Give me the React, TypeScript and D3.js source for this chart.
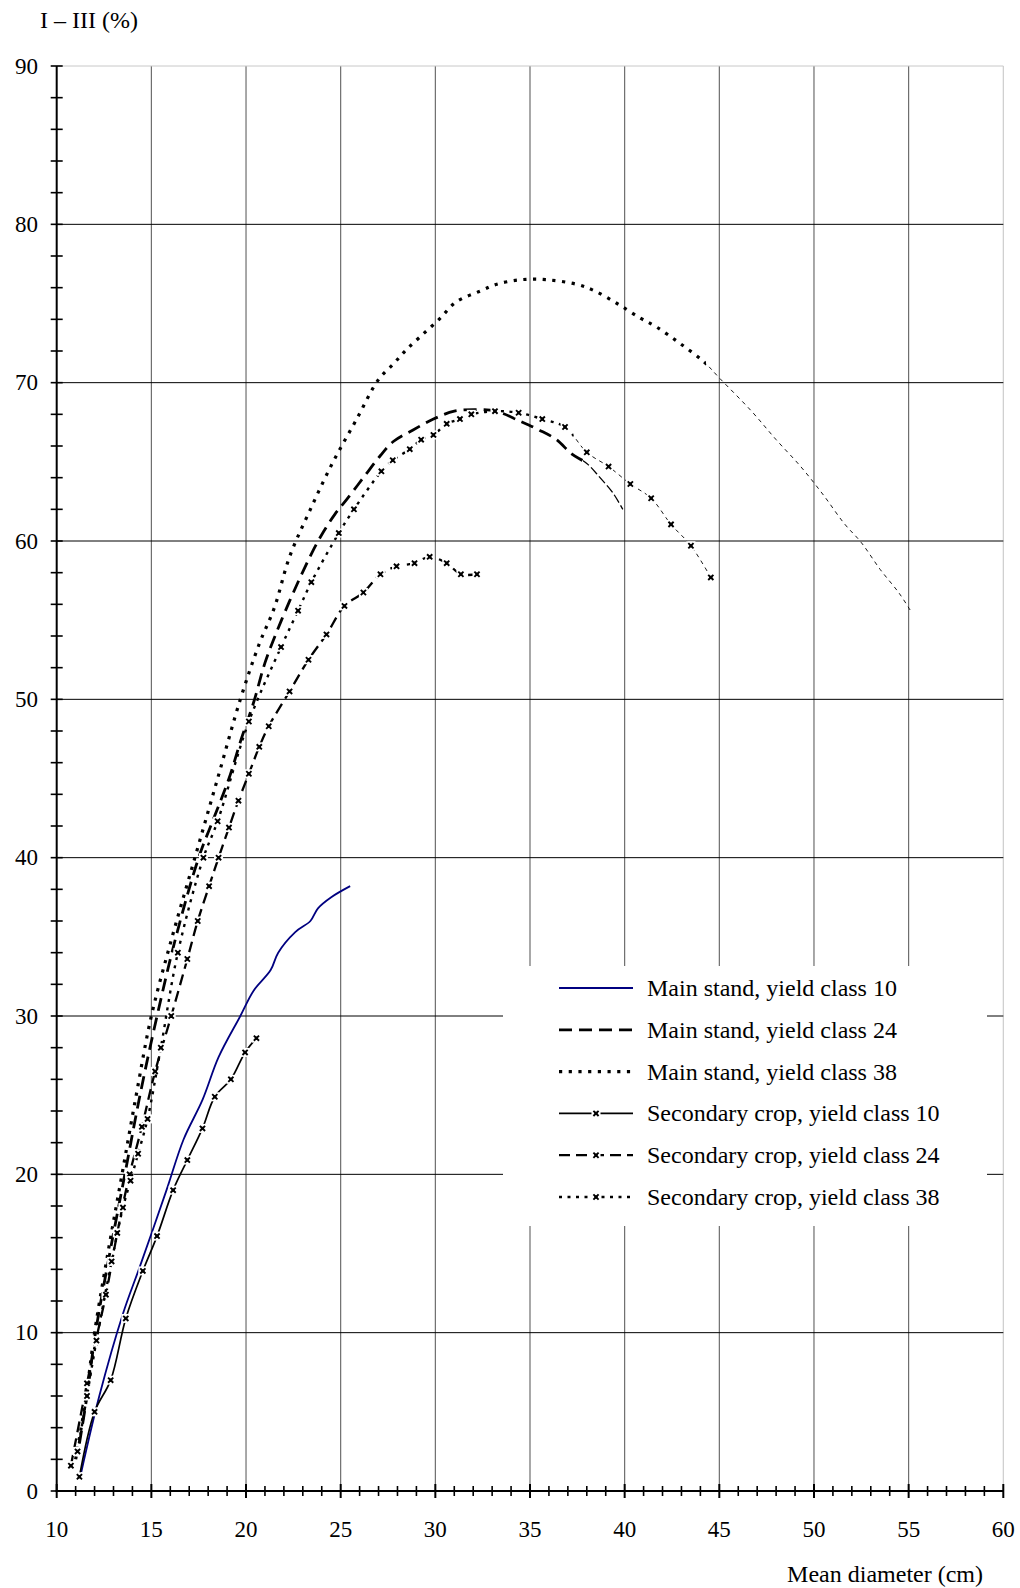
import * as d3 from 'd3'

// x = mean diameter (cm), y = I – III (%)
const xTicks = [10, 15, 20, 25, 30, 35, 40, 45, 50, 55, 60]
const yTicks = [0, 10, 20, 30, 40, 50, 60, 70, 80, 90]

const legendLabels = [
  'Main stand, yield class 10',
  'Main stand, yield class 24',
  'Main stand, yield class 38',
  'Secondary crop, yield class 10',
  'Secondary crop, yield class 24',
  'Secondary crop, yield class 38',
]

const main10X = [11.3, 12.25, 13.5, 14.4, 15.8, 16.7, 17.7, 18.55, 19.7, 20.4, 21.3, 21.7, 22.6, 23.4, 23.8, 24.5, 25.5]
const main10Y = [1.2, 6.0, 11.2, 14.2, 19.0, 22.2, 24.7, 27.4, 30.0, 31.6, 32.9, 34.0, 35.3, 36.0, 36.8, 37.5, 38.2]

const main24X = [11.2, 11.6, 12.05, 12.8, 13.6, 14.4, 15.3, 16.3, 17.5, 18.3, 19.1, 19.75, 20.4, 21.0, 21.6, 22.3, 22.9, 23.5, 24.1, 24.7, 25.3, 26.2, 27.1, 27.8, 28.8, 29.9, 31.0, 32.2, 33.2, 34.6, 35.5, 36.4, 37.2, 38.0, 38.7, 39.4, 39.9]
const main24Y = [3.0, 6.0, 10.0, 15.0, 20.0, 25.0, 30.0, 35.0, 40.0, 42.5, 45.0, 47.5, 49.8, 52.3, 54.2, 56.2, 57.8, 59.3, 60.6, 61.7, 62.6, 64.0, 65.4, 66.3, 67.0, 67.7, 68.2, 68.3, 68.2, 67.5, 67.0, 66.4, 65.5, 64.9, 64.0, 63.0, 62.0]

const main38X = [11.0, 11.5, 12.0, 12.7, 13.45, 14.2, 15.0, 16.1, 17.3, 18.5, 19.7, 20.7, 21.5, 22.3, 23.4, 24.6, 25.8, 27.0, 27.8, 28.4, 29.2, 30.2, 31.1, 32.4, 33.2, 34.5, 35.9, 37.5, 38.4, 39.6, 40.8, 41.7, 42.9, 44.2, 45.0, 46.7, 48.0, 49.3, 50.5, 51.6, 52.5, 53.5, 54.5, 55.1]
const main38Y = [2.0, 5.5, 10.0, 15.0, 20.0, 25.0, 30.0, 35.0, 40.0, 45.0, 50.0, 53.5, 55.8, 59.0, 62.0, 65.0, 67.6, 70.2, 71.2, 72.0, 72.9, 74.0, 75.1, 75.8, 76.2, 76.5, 76.5, 76.2, 75.8, 75.0, 74.1, 73.5, 72.5, 71.3, 70.3, 68.2, 66.4, 64.7, 62.9, 61.1, 59.9, 58.2, 56.7, 55.6]

const sec10X = [11.2, 12.0, 12.85, 13.65, 14.55, 15.3, 16.15, 16.9, 17.7, 18.35, 19.2, 19.95, 20.55]
const sec10Y = [0.9, 5.0, 7.0, 10.9, 13.9, 16.1, 19.0, 20.9, 22.9, 24.9, 26.0, 27.7, 28.6]

const sec24X = [10.75, 11.6, 12.05, 12.6, 13.2, 13.85, 14.5, 15.2, 16.05, 16.9, 17.45, 18.05, 18.55, 19.1, 19.6, 20.15, 20.7, 21.2, 22.3, 23.3, 24.25, 25.2, 26.2, 27.1, 27.95, 28.9, 29.7, 30.6, 31.35, 32.2]
const sec24Y = [1.6, 6.8, 9.4, 12.4, 16.3, 20.0, 23.0, 26.5, 30.0, 33.6, 36.0, 38.2, 40.0, 41.9, 43.6, 45.3, 47.0, 48.3, 50.5, 52.5, 54.1, 55.9, 56.75, 57.9, 58.4, 58.6, 59.0, 58.6, 57.9, 57.9]

const sec38X = [11.1, 11.6, 12.1, 12.9, 13.5, 13.9, 14.3, 14.8, 15.5, 16.4, 17.75, 18.5, 20.15, 21.85, 22.75, 23.45, 24.9, 25.7, 27.15, 27.75, 28.65, 29.25, 29.9, 30.6, 31.3, 31.9, 33.15, 34.4, 35.65, 36.85, 38.0, 39.15, 40.3, 41.4, 42.45, 43.5, 44.55]
const sec38Y = [2.5, 6.0, 9.5, 14.5, 17.9, 19.6, 21.3, 23.5, 28.0, 34.0, 40.0, 42.3, 48.6, 53.3, 55.6, 57.4, 60.5, 62.0, 64.4, 65.1, 65.8, 66.4, 66.7, 67.4, 67.7, 68.0, 68.2, 68.1, 67.7, 67.2, 65.6, 64.7, 63.6, 62.7, 61.05, 59.7, 57.7]

const zip = (xs: number[], ys: number[]) => xs.map((v, i) => [v, ys[i]] as [number, number])

type Style = { width: number; dash: string | null }
type Series = {
  pts: [number, number][]
  color: string
  main: Style
  tail?: { from: number } & Style // the original draws the far end of some curves with a hairline
  marker: boolean
}

const series: Series[] = [
  { pts: zip(main10X, main10Y), color: '#000080', main: { width: 1.8, dash: null }, marker: false },
  { pts: zip(main24X, main24Y), color: '#000', main: { width: 2.8, dash: '13 7' }, tail: { from: 37.8, width: 1.3, dash: '9 3' }, marker: false },
  { pts: zip(main38X, main38Y), color: '#000', main: { width: 3.2, dash: '3.2 6.5' }, tail: { from: 44.3, width: 0.9, dash: '4 4' }, marker: false },
  { pts: zip(sec10X, sec10Y), color: '#000', main: { width: 1.7, dash: null }, marker: true },
  { pts: zip(sec24X, sec24Y), color: '#000', main: { width: 2.3, dash: '11 6' }, marker: true },
  { pts: zip(sec38X, sec38Y), color: '#000', main: { width: 2.4, dash: '3 5.5' }, tail: { from: 37.3, width: 0.9, dash: '4 4' }, marker: true },
]

const FONT = '"Liberation Serif", "Times New Roman", serif'

const Marker = ({ cx, cy }: { cx: number; cy: number }) => (
  <g transform={`translate(${cx},${cy})`}>
    <rect x={-4.5} y={-4.5} width={9} height={9} fill="#fff" />
    <path d="M-2.6,-2.6L2.6,2.6M-2.6,2.6L2.6,-2.6" stroke="#000" strokeWidth={1.9} />
    <rect x={-1.6} y={-1.6} width={3.2} height={3.2} fill="#000" />
  </g>
)

export default function App() {
  const width = 1020
  const height = 1588
  const x = d3.scaleLinear().domain([10, 60]).range([56.7, 1003.3])
  const y = d3.scaleLinear().domain([0, 90]).range([1491, 66])
  const line = d3.line<[number, number]>()
    .x(d => x(d[0]))
    .y(d => y(d[1]))
    .curve(d3.curveCatmullRom.alpha(0.5))

  const minorX = d3.range(10, 61, 1)
  const minorY = d3.range(0, 91, 2)

  // legend placement
  const lg = { x: 503, y: 966, w: 484, h: 260 }
  const rowY = (i: number) => 988 + i * 41.8

  return (
    <svg width={width} height={height} style={{ position: 'absolute', left: 0, top: 0, background: '#fff' }}
      fontFamily={FONT}>
      <defs>
        {series.map((s, i) => s.tail && (
          <g key={'c' + i}>
            <clipPath id={`head${i}`}>
              <rect x={0} y={0} width={x(s.tail.from)} height={height} />
            </clipPath>
            <clipPath id={`tail${i}`}>
              <rect x={x(s.tail.from)} y={0} width={width} height={height} />
            </clipPath>
          </g>
        ))}
      </defs>

      {/* grid */}
      {xTicks.slice(1).map(t => (
        <line key={'gx' + t} x1={x(t)} x2={x(t)} y1={y(90)} y2={y(0)}
          stroke={t === 60 ? '#c8c8c8' : '#606060'} strokeWidth={1.1} />
      ))}
      {yTicks.slice(1).map(t => (
        <line key={'gy' + t} x1={x(10)} x2={x(60)} y1={y(t)} y2={y(t)}
          stroke={t === 90 ? '#c8c8c8' : '#000'} strokeWidth={1} />
      ))}

      {/* legend background covers grid */}
      <rect x={lg.x} y={lg.y} width={lg.w} height={lg.h} fill="#fff" />

      {/* series */}
      {series.map((s, i) => {
        const d = line(s.pts) ?? ''
        return (
          <g key={'s' + i}>
            <path d={d} fill="none" stroke={s.color} strokeWidth={s.main.width}
              strokeDasharray={s.main.dash ?? undefined} strokeLinejoin="round"
              clipPath={s.tail ? `url(#head${i})` : undefined} />
            {s.tail && (
              <path d={d} fill="none" stroke={s.color} strokeWidth={s.tail.width}
                strokeDasharray={s.tail.dash ?? undefined} clipPath={`url(#tail${i})`} />
            )}
            {s.marker && s.pts.map((p, j) => <Marker key={j} cx={x(p[0])} cy={y(p[1])} />)}
          </g>
        )
      })}

      {/* axes */}
      <line x1={x(10)} x2={x(10)} y1={y(0) + 1} y2={y(90)} stroke="#000" strokeWidth={2} />
      <line x1={x(10) - 1} x2={x(60)} y1={y(0)} y2={y(0)} stroke="#000" strokeWidth={2} />
      {minorY.map(t => (
        <line key={'ty' + t} x1={x(10) - 6} x2={x(10) + 6} y1={y(t)} y2={y(t)} stroke="#000" strokeWidth={1.6} />
      ))}
      {minorX.map(t => (
        <line key={'tx' + t} x1={x(t)} x2={x(t)} y1={y(0) - (t % 5 === 0 ? 7 : 5)} y2={y(0) + (t % 5 === 0 ? 7 : 5)}
          stroke="#000" strokeWidth={t % 5 === 0 ? 2 : 1.6} />
      ))}
      {yTicks.map(t => (
        <text key={'ly' + t} x={38} y={y(t)} dy="0.34em" textAnchor="end" fontSize={23}>{t}</text>
      ))}
      {xTicks.map(t => (
        <text key={'lx' + t} x={x(t)} y={1537} textAnchor="middle" fontSize={23}>{t}</text>
      ))}
      <text x={40} y={28} fontSize={24}>I – III (%)</text>
      <text x={983} y={1582} textAnchor="end" fontSize={24}>Mean diameter (cm)</text>

      {/* legend */}
      {series.map((s, i) => (
        <g key={'lg' + i}>
          <line x1={559} x2={633} y1={rowY(i)} y2={rowY(i)} stroke={s.color} strokeWidth={s.main.width}
            strokeDasharray={s.main.dash ?? undefined} />
          {s.marker && <Marker cx={596} cy={rowY(i)} />}
          <text x={647} y={rowY(i)} dy="0.33em" fontSize={24}>{legendLabels[i]}</text>
        </g>
      ))}
    </svg>
  )
}
